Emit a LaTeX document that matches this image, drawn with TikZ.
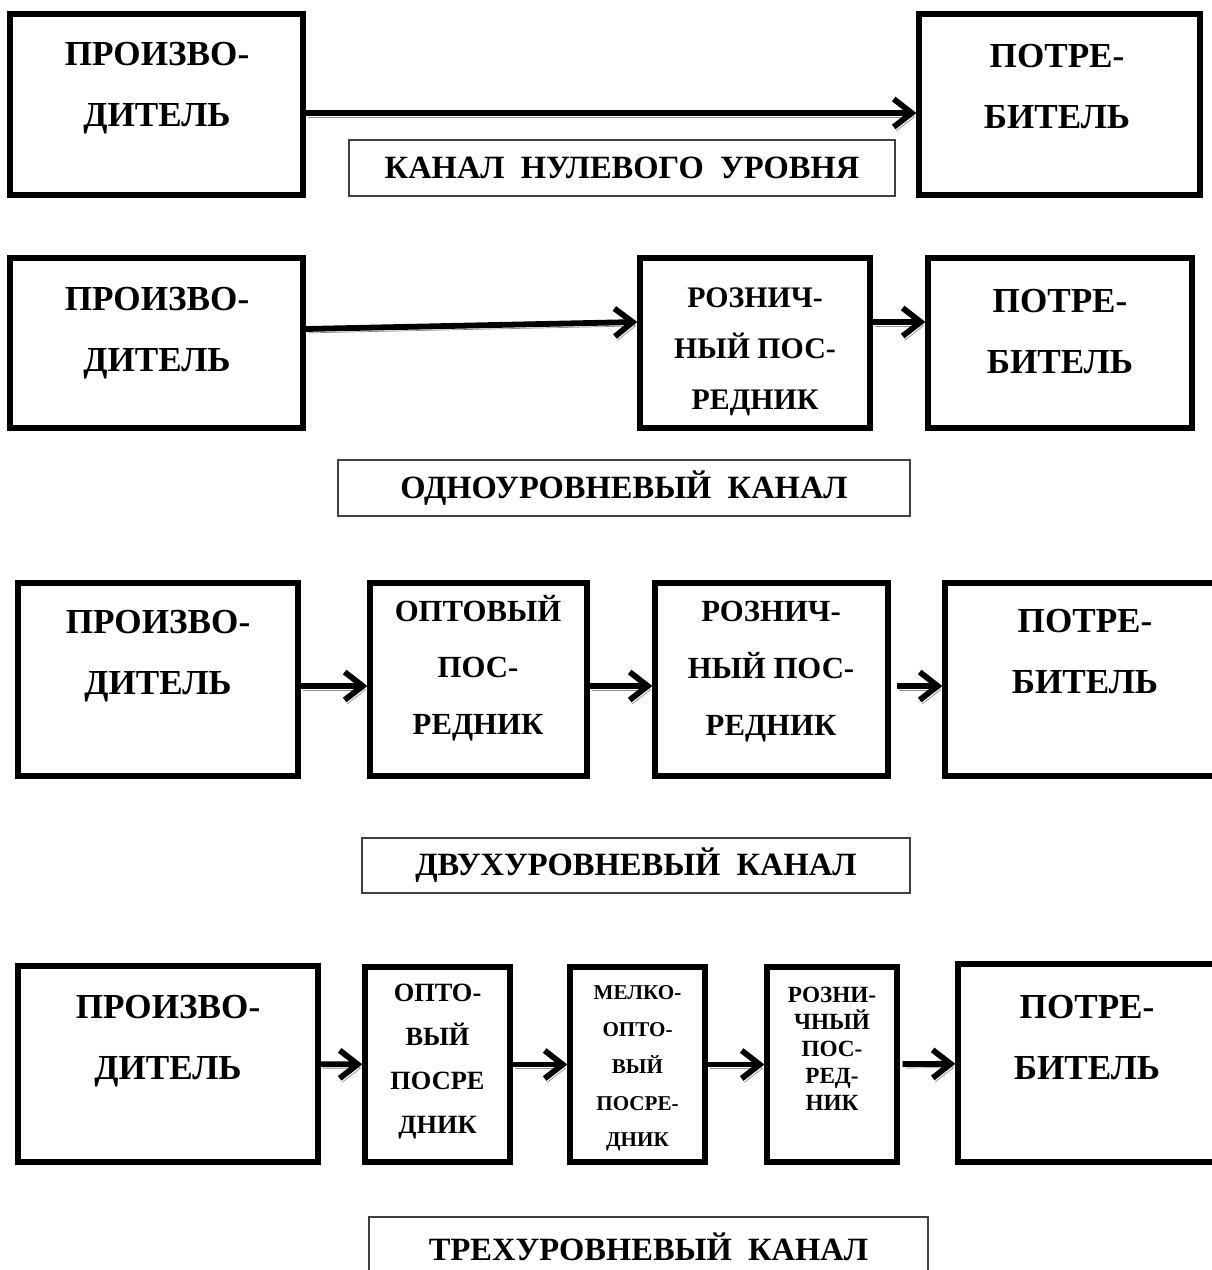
\documentclass[tikz,border=0pt]{standalone}
\usepackage{fontspec}
\setmainfont{Liberation Serif}
\usepackage{tikz}
\usetikzlibrary{arrows.meta}

\tikzstyle{chbox} = [rectangle, draw, line width=3pt, inner sep=0pt]
\tikzstyle{chname} = [rectangle, draw=black!75, line width=0.8pt, inner sep=0pt, font=\bfseries\fontsize{18.5}{22}\selectfont]
\tikzstyle{bigtxt} = [anchor=north, align=center, inner sep=0pt, font=\bfseries\fontsize{20}{35}\selectfont]
\tikzstyle{midtxt} = [anchor=north, align=center, inner sep=0pt, font=\bfseries\fontsize{17}{29}\selectfont]
\tikzstyle{flow} = [draw, line width=3.3pt, -{Straight Barb[length=0.36cm,width=0.56cm]},
  preaction={draw=black!45, transform canvas={xshift=1.5pt,yshift=-2.2pt}}]

\begin{document}
\begin{tikzpicture}[x=0.02cm, y=-0.02cm]
\useasboundingbox (0,0) rectangle (1211,1270);

%% zero level

\node [chbox, minimum width=5.86cm, minimum height=3.62cm] at (156.5,104.5) (p1) {};
\node [chbox, minimum width=5.62cm, minimum height=3.62cm] at (1059.5,104.5) (c1) {};

\node [bigtxt] at (157,41.5) (tp1) {ПРОИЗВО-\\ДИТЕЛЬ};
\node [bigtxt] at (1057,43.5) (tc1) {ПОТРЕ-\\БИТЕЛЬ};

\path [flow] ([yshift=-0.17cm]p1.east) to ([yshift=-0.17cm]c1.west);

\node [chname, minimum width=10.92cm, minimum height=1.12cm] at (622,168) (l1) {КАНАЛ~~НУЛЕВОГО~~УРОВНЯ};

%% one level

\node [chbox, minimum width=5.86cm, minimum height=3.4cm] at (156.5,343) (p2) {};
\node [chbox, minimum width=4.6cm, minimum height=3.4cm] at (755,343) (r2) {};
\node [chbox, minimum width=5.28cm, minimum height=3.4cm] at (1060,343) (c2) {};

\node [bigtxt] at (157,286.5) (tp2) {ПРОИЗВО-\\ДИТЕЛЬ};
\node [midtxt] at (755,287) (tr2) {РОЗНИЧ-\\НЫЙ ПОС-\\РЕДНИК};
\node [bigtxt] at (1060,288.5) (tc2) {ПОТРЕ-\\БИТЕЛЬ};

\path [flow] ([yshift=0.28cm]p2.east) to ([yshift=0.42cm]r2.west);
\path [flow] ([yshift=0.42cm]r2.east) to ([yshift=0.42cm]c2.west);

\node [chname, minimum width=11.44cm, minimum height=1.12cm] at (624,488) (l2) {ОДНОУРОВНЕВЫЙ~~КАНАЛ};

%% two levels

\node [chbox, minimum width=5.6cm, minimum height=3.86cm] at (158,679.5) (p3) {};
\node [chbox, minimum width=4.34cm, minimum height=3.86cm] at (478.5,679.5) (w3) {};
\node [chbox, minimum width=4.66cm, minimum height=3.86cm] at (771.5,679.5) (r3) {};
\node [chbox, minimum width=5.42cm, minimum height=3.86cm] at (1080.5,679.5) (c3) {};

\node [bigtxt] at (158,609.5) (tp3) {ПРОИЗВО-\\ДИТЕЛЬ};
\node [midtxt, font=\bfseries\fontsize{17.5}{32.4}\selectfont] at (478,594.5) (tw3) {ОПТОВЫЙ\\ПОС-\\РЕДНИК};
\node [midtxt, font=\bfseries\fontsize{17.5}{32.4}\selectfont] at (771,601) (tr3) {РОЗНИЧ-\\НЫЙ ПОС-\\РЕДНИК};
\node [bigtxt] at (1085,608.5) (tc3) {ПОТРЕ-\\БИТЕЛЬ};

\path [flow] ([yshift=-0.13cm]p3.east) to ([yshift=-0.13cm]w3.west);
\path [flow] ([yshift=-0.13cm]w3.east) to ([yshift=-0.13cm]r3.west);
\path [flow, shorten <=0.12cm] ([yshift=-0.13cm]r3.east) to ([yshift=-0.13cm]c3.west);

\node [chname, minimum width=10.96cm, minimum height=1.1cm] at (636,865.5) (l3) {ДВУХУРОВНЕВЫЙ~~КАНАЛ};

%% three levels

\node [chbox, minimum width=6cm, minimum height=3.92cm] at (168,1064) (p4) {};
\node [chbox, minimum width=2.9cm, minimum height=3.9cm] at (437.5,1064.5) (w4) {};
\node [chbox, minimum width=2.7cm, minimum height=3.9cm] at (637.5,1064.5) (m4) {};
\node [chbox, minimum width=2.6cm, minimum height=3.9cm] at (832,1064.5) (r4) {};
\node [chbox, minimum width=5.16cm, minimum height=3.96cm] at (1087,1063) (c4) {};

\node [bigtxt] at (168,994.5) (tp4) {ПРОИЗВО-\\ДИТЕЛЬ};
\node [midtxt, font=\bfseries\fontsize{15}{25}\selectfont] at (437.5,984) (tw4) {ОПТО-\\ВЫЙ\\ПОСРЕ\\ДНИК};
\node [midtxt, font=\bfseries\fontsize{12}{21}\selectfont] at (637.5,985) (tm4) {МЕЛКО-\\ОПТО-\\ВЫЙ\\ПОСРЕ-\\ДНИК};
\node [midtxt, font=\bfseries\fontsize{13.2}{15.4}\selectfont] at (832,987) (tr4) {РОЗНИ-\\ЧНЫЙ\\ПОС-\\РЕД-\\НИК};
\node [bigtxt] at (1087,994.5) (tc4) {ПОТРЕ-\\БИТЕЛЬ};

\path [flow] (p4) to (w4);
\path [flow] (w4) to (m4);
\path [flow] (m4) to (r4);
\path [flow, shorten <=0.06cm] (r4) to (c4);

\node [chname, minimum width=11.18cm, minimum height=1.18cm] at (648.5,1246.5) (l4) {ТРЕХУРОВНЕВЫЙ~~КАНАЛ};

\end{tikzpicture}
\end{document}
